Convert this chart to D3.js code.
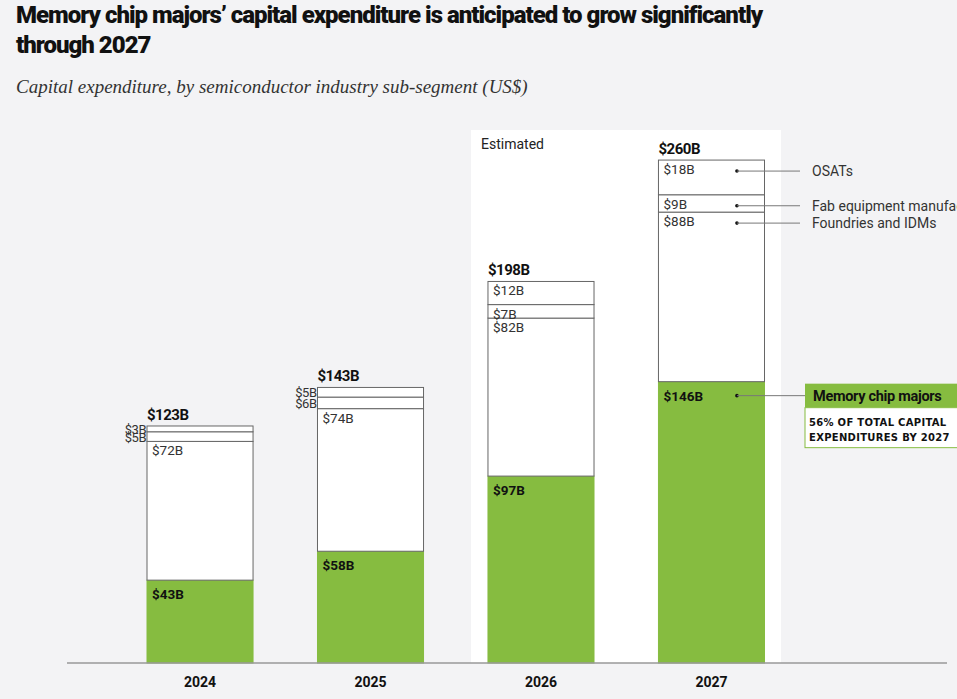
<!DOCTYPE html>
<html><head><meta charset="utf-8">
<script src="https://cdn.jsdelivr.net/npm/d3@7"></script>
<style>body{margin:0;background:#f3f3f5;overflow:hidden}</style>
</head><body><svg id="c" width="957" height="699"></svg>
<script>
const years = ["2024","2025","2026","2027"];
const memory = [43,58,97,146];
const foundries = [72,74,82,88];
const fabEquip = [5,6,7,9];
const osats = [3,5,12,18];
const totals = [123,143,198,260];
const seriesNames = ["Memory chip majors","Foundries and IDMs","Fab equipment manufacturers","OSATs"];

const svg = d3.select("#c");
const F = "Roboto, 'Liberation Sans', sans-serif";
const x = d3.scaleBand().domain(years).range([147,764.5]).paddingInner(0.378).paddingOuter(0);
const y = d3.scaleLinear().domain([0,260]).range([663,162]);

svg.append("rect").attr("x",471).attr("y",130).attr("width",310).attr("height",533).attr("fill","#ffffff");
svg.append("text").attr("x",481).attr("y",149).attr("font-family",F).attr("font-size",14).attr("fill","#222").text("Estimated");

svg.append("text").attr("x",16).attr("y",23).attr("font-family",F).attr("font-weight",900).attr("font-size",24).attr("letter-spacing",-1.0).attr("fill","#111").text("Memory chip majors’ capital expenditure is anticipated to grow significantly");
svg.append("text").attr("x",16).attr("y",53).attr("font-family",F).attr("font-weight",900).attr("font-size",24).attr("letter-spacing",-1.0).attr("fill","#111").text("through 2027");
svg.append("text").attr("x",16).attr("y",93).attr("font-family","'Liberation Serif',serif").attr("font-style","italic").attr("font-size",19).attr("fill","#333").text("Capital expenditure, by semiconductor industry sub-segment (US$)");

const data = years.map((yr,i)=>({yr,vals:[memory[i],foundries[i],fabEquip[i],osats[i]],total:totals[i]}));
const bw = x.bandwidth();
data.forEach((d,i)=>{
  const g = svg.append("g");
  const x0 = x(d.yr);
  let cum=0;
  d.vals.forEach((v,k)=>{
    const y0=y(cum), y1=y(cum+v); cum+=v;
    g.append("rect").attr("x",x0).attr("y",y1).attr("width",bw).attr("height",y0-y1)
      .attr("fill",k===0?"#86bc40":"#ffffff").attr("stroke",k===0?"#86bc40":"#666").attr("stroke-width",1);
    const small = (y0-y1)<20 && k>0 && i<2;
    if(small){
      g.append("text").attr("x",x0-1).attr("y",(y0+y1)/2+5).attr("text-anchor","end").attr("font-family",F).attr("font-size",13).attr("letter-spacing",-0.5).attr("fill","#333").text("$"+v+"B");
    } else {
      g.append("text").attr("x",x0+5).attr("y",y1+(k===0?19:14)).attr("font-family",F).attr("font-size",13.5).attr("font-weight",k===0?700:400).attr("fill",k===0?"#111":"#333").text("$"+v+"B");
    }
  });
  g.append("text").attr("x",x0).attr("y",y(cum)-6).attr("font-family",F).attr("font-weight",700).attr("font-size",15).attr("letter-spacing",-0.5).attr("fill","#111").text("$"+d.total+"B");
  svg.append("text").attr("x",x0+bw/2).attr("y",687).attr("text-anchor","middle").attr("font-family",F).attr("font-weight",700).attr("font-size",14).attr("fill","#111").text(d.yr);
});
svg.append("line").attr("x1",67).attr("x2",947).attr("y1",663).attr("y2",663).attr("stroke","#999").attr("stroke-width",1.5);

const last = data[3]; let cum=0; const ly=[];
last.vals.forEach((v,k)=>{ly.push(y(cum+v)+(k===0?14:11)); cum+=v;});
const dotX = x("2027")+bw*0.74;
ly.forEach((yy,k)=>{
  svg.append("circle").attr("cx",dotX).attr("cy",yy).attr("r",1.8).attr("fill","#111");
  svg.append("line").attr("x1",dotX).attr("x2",k===0?805:800).attr("y1",yy).attr("y2",yy).attr("stroke","#777");
  if(k>0) svg.append("text").attr("x",812).attr("y",yy+5).attr("font-family",F).attr("font-size",14).attr("fill","#333").text(seriesNames[k]);
});
const my = ly[0];
svg.append("rect").attr("x",805).attr("y",my-12).attr("width",160).attr("height",24).attr("fill","#86bc40");
svg.append("text").attr("x",813).attr("y",my+5).attr("font-family",F).attr("font-weight",700).attr("font-size",14.5).attr("letter-spacing",-0.3).attr("fill","#111").text(seriesNames[0]);
svg.append("rect").attr("x",805).attr("y",my+12).attr("width",160).attr("height",40).attr("fill","#fff").attr("stroke","#86bc40");
svg.append("text").attr("x",809).attr("y",my+30).attr("font-family","'DejaVu Sans',sans-serif").attr("font-size",10).attr("font-weight",700).attr("letter-spacing",0.3).attr("fill","#111").text("56% OF TOTAL CAPITAL");
svg.append("text").attr("x",809).attr("y",my+45).attr("font-family","'DejaVu Sans',sans-serif").attr("font-size",10).attr("font-weight",700).attr("letter-spacing",0.3).attr("fill","#111").text("EXPENDITURES BY 2027");
</script></body></html>
